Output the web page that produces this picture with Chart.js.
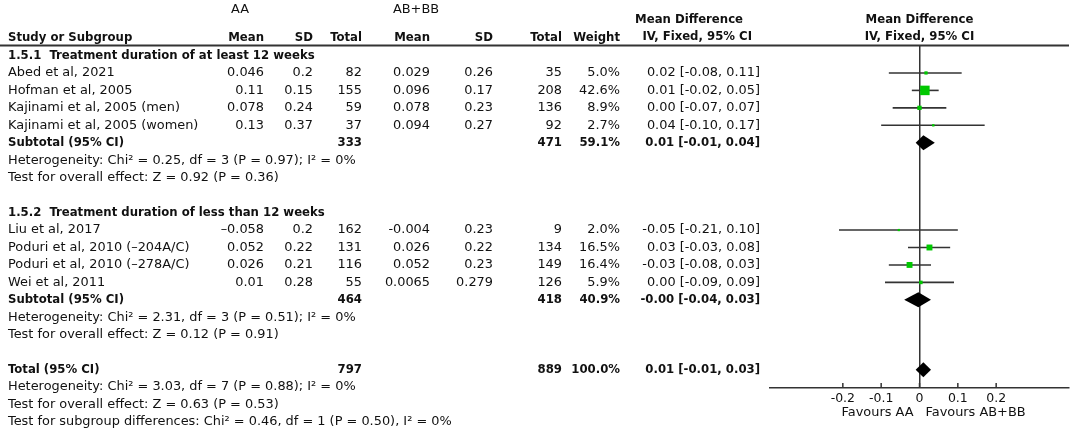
<!DOCTYPE html>
<html>
<head>
<meta charset="utf-8">
<script src="https://cdn.jsdelivr.net/npm/chart.js@4.4.1/dist/chart.umd.min.js"></script>
<style>
  html, body { margin: 0; padding: 0; background: #fff; overflow: hidden; }
  canvas { display: block; }
</style>
</head>
<body>
<canvas id="forest" width="1072" height="432"></canvas>
<script>
// study rows (row index = line of the table)
const studyNames = ['Abed et al, 2021', 'Hofman et al, 2005', 'Kajinami et al, 2005 (men)', 'Kajinami et al, 2005 (women)',
                    'Liu et al, 2017', 'Poduri et al, 2010 (–204A/C)', 'Poduri et al, 2010 (–278A/C)', 'Wei et al, 2011'];
const studyRows = [1, 2, 3, 4, 10, 11, 12, 13];
const aaMean = ['0.046', '0.11', '0.078', '0.13', '–0.058', '0.052', '0.026', '0.01'];
const aaSD = ['0.2', '0.15', '0.24', '0.37', '0.2', '0.22', '0.21', '0.28'];
const aaTotal = [82, 155, 59, 37, 162, 131, 116, 55];
const abMean = ['0.029', '0.096', '0.078', '0.094', '-0.004', '0.026', '0.052', '0.0065'];
const abSD = ['0.26', '0.17', '0.23', '0.27', '0.23', '0.22', '0.23', '0.279'];
const abTotal = [35, 208, 136, 92, 9, 134, 149, 126];
const weights = [5.0, 42.6, 8.9, 2.7, 2.0, 16.5, 16.4, 5.9];
const md = [0.017, 0.014, 0.000, 0.036, -0.054, 0.026, -0.026, 0.0035];
const ciLow = [-0.08, -0.02, -0.07, -0.10, -0.21, -0.03, -0.08, -0.09];
const ciHigh = [0.11, 0.05, 0.07, 0.17, 0.10, 0.08, 0.03, 0.09];

// subtotals and total
const summaryLabels = ['Subtotal (95% CI)', 'Subtotal (95% CI)', 'Total (95% CI)'];
const summaryRows = [5, 14, 18];
const summaryAA = [333, 464, 797];
const summaryAB = [471, 418, 889];
const summaryWeight = ['59.1%', '40.9%', '100.0%'];
const summaryEst = [0.01, -0.003, 0.01];
const summaryLow = [-0.01, -0.04, -0.01];
const summaryHigh = [0.04, 0.03, 0.03];

// group headings and statistics lines
const groupHeadings = ['1.5.1  Treatment duration of at least 12 weeks', '1.5.2  Treatment duration of less than 12 weeks'];
const groupRows = [0, 9];
const statLines = [
  'Heterogeneity: Chi² = 0.25, df = 3 (P = 0.97); I² = 0%',
  'Test for overall effect: Z = 0.92 (P = 0.36)',
  'Heterogeneity: Chi² = 2.31, df = 3 (P = 0.51); I² = 0%',
  'Test for overall effect: Z = 0.12 (P = 0.91)',
  'Heterogeneity: Chi² = 3.03, df = 7 (P = 0.88); I² = 0%',
  'Test for overall effect: Z = 0.63 (P = 0.53)',
  'Test for subgroup differences: Chi² = 0.46, df = 1 (P = 0.50), I² = 0%'
];
const statRows = [6, 7, 15, 16, 19, 20, 21];

// axis
const xTicks = [-0.2, -0.1, 0, 0.1, 0.2];
const favourLabels = ['Favours AA', 'Favours AB+BB'];

const FS = 12.9;
function fnt(bold) {
  return bold ? 'bold 13px "DejaVu Sans Condensed", "DejaVu Sans", sans-serif'
              : FS + 'px "DejaVu Sans", sans-serif';
}

function fmtCI(e, l, h) {
  return e.toFixed(2) + ' [' + l.toFixed(2) + ', ' + h.toFixed(2) + ']';
}

// colonnes du tableau
const COL = { name: 8, aaMean: 264, aaSD: 313, aaN: 362, abMean: 430, abSD: 493, abN: 562, weight: 620, ci: 760 };

const forestPlugin = {
  id: 'forestTable',
  afterDatasetsDraw(chart) {
    // diamants des sous-totaux
    const { ctx, scales: { x, y } } = chart;
    ctx.save();
    ctx.fillStyle = '#000';
    summaryRows.forEach(function (r, i) {
      const cy = y.getPixelForValue(r);
      ctx.beginPath();
      ctx.moveTo(x.getPixelForValue(summaryLow[i]), cy);
      ctx.lineTo(x.getPixelForValue(summaryEst[i]), cy - 7.5);
      ctx.lineTo(x.getPixelForValue(summaryHigh[i]), cy);
      ctx.lineTo(x.getPixelForValue(summaryEst[i]), cy + 7.5);
      ctx.closePath();
      ctx.fill();
    });
    ctx.restore();
  },
  afterDraw(chart) {
    const { ctx, chartArea, scales: { x, y } } = chart;
    ctx.save();
    ctx.fillStyle = '#111';
    ctx.textBaseline = 'middle';

    function txt(s, px, py, align, bold) {
      ctx.font = fnt(bold);
      ctx.textAlign = align || 'left';
      ctx.fillText(s, px, py);
    }

    // ligne d'en-tête
    ctx.strokeStyle = '#333';
    ctx.lineWidth = 2;
    ctx.beginPath();
    ctx.moveTo(0, 45.5);
    ctx.lineTo(chartArea.right, 45.5);
    ctx.stroke();

    // petites graduations vers le haut
    ctx.lineWidth = 1.5;
    xTicks.forEach(function (t) {
      const px = x.getPixelForValue(t);
      ctx.beginPath();
      ctx.moveTo(px, chartArea.bottom - 5);
      ctx.lineTo(px, chartArea.bottom);
      ctx.stroke();
    });

    // en-têtes
    txt('AA', 240, 10, 'center', false);
    txt('AB+BB', 416, 10, 'center', false);
    txt('Mean Difference', 743, 20, 'right', true);
    txt('IV, Fixed, 95% CI', 752, 37, 'right', true);
    const mid = (chartArea.left + chartArea.right) / 2;
    txt('Mean Difference', mid, 20, 'center', true);
    txt('IV, Fixed, 95% CI', mid, 37, 'center', true);
    txt('Study or Subgroup', COL.name, 38, 'left', true);
    txt('Mean', COL.aaMean, 38, 'right', true);
    txt('SD', COL.aaSD, 38, 'right', true);
    txt('Total', COL.aaN, 38, 'right', true);
    txt('Mean', COL.abMean, 38, 'right', true);
    txt('SD', COL.abSD, 38, 'right', true);
    txt('Total', COL.abN, 38, 'right', true);
    txt('Weight', COL.weight, 38, 'right', true);

    groupHeadings.forEach(function (g, i) {
      txt(g, COL.name, y.getPixelForValue(groupRows[i]), 'left', true);
    });

    studyNames.forEach(function (n, i) {
      const py = y.getPixelForValue(studyRows[i]);
      txt(n, COL.name, py, 'left', false);
      txt(aaMean[i], COL.aaMean, py, 'right', false);
      txt(aaSD[i], COL.aaSD, py, 'right', false);
      txt(String(aaTotal[i]), COL.aaN, py, 'right', false);
      txt(abMean[i], COL.abMean, py, 'right', false);
      txt(abSD[i], COL.abSD, py, 'right', false);
      txt(String(abTotal[i]), COL.abN, py, 'right', false);
      txt(weights[i].toFixed(1) + '%', COL.weight, py, 'right', false);
      txt(fmtCI(md[i], ciLow[i], ciHigh[i]), COL.ci, py, 'right', false);
    });

    summaryLabels.forEach(function (s, i) {
      const py = y.getPixelForValue(summaryRows[i]);
      txt(s, COL.name, py, 'left', true);
      txt(String(summaryAA[i]), COL.aaN, py, 'right', true);
      txt(String(summaryAB[i]), COL.abN, py, 'right', true);
      txt(summaryWeight[i], COL.weight, py, 'right', true);
      txt(fmtCI(summaryEst[i], summaryLow[i], summaryHigh[i]), COL.ci, py, 'right', true);
    });

    statLines.forEach(function (s, i) {
      txt(s, COL.name, y.getPixelForValue(statRows[i]), 'left', false);
    });

    // libellés "Favours"
    const x0 = x.getPixelForValue(0);
    txt(favourLabels[0], x0 - 6, 413, 'right', false);
    txt(favourLabels[1], x0 + 6, 413, 'left', false);
    ctx.restore();
  }
};

const datasets = [{
  type: 'scatter',
  order: 0,
  data: md.map(function (v, i) { return { x: v, y: studyRows[i] }; }),
  pointStyle: 'rect',
  pointRadius: weights.map(function (w) { return Math.max(1.6, Math.sqrt(w) * 1.03); }),
  backgroundColor: '#00c800',
  borderWidth: 0
}];
studyNames.forEach(function (n, i) {
  datasets.push({
    type: 'scatter',
    order: 1,
    data: [{ x: ciLow[i], y: studyRows[i] }, { x: ciHigh[i], y: studyRows[i] }],
    showLine: true,
    borderColor: '#333',
    borderWidth: 1.6,
    pointRadius: 0
  });
});

new Chart(document.getElementById('forest'), {
  type: 'scatter',
  data: { datasets: datasets },
  options: {
    responsive: false,
    animation: false,
    layout: { autoPadding: false, padding: { top: 46, left: 770, right: 3, bottom: 24 } },
    plugins: { legend: { display: false }, tooltip: { enabled: false } },
    scales: {
      x: {
        type: 'linear',
        min: -0.39,
        max: 0.39,
        afterBuildTicks: function (scale) {
          scale.ticks = xTicks.map(function (v) { return { value: v }; });
        },
        afterFit: function (scale) {
          scale.height = 20;
          scale.paddingLeft = 0;
          scale.paddingRight = 0;
        },
        ticks: {
          color: '#111',
          padding: 3,
          font: { family: 'DejaVu Sans', size: 12.5 },
          callback: function (v) { return v === 0 ? '0' : v.toFixed(1); }
        },
        grid: {
          drawTicks: false,
          lineWidth: 1.5,
          color: function (c) { return c.tick && c.tick.value === 0 ? '#333' : 'rgba(0,0,0,0)'; }
        },
        border: { display: true, color: '#333', width: 1.5 }
      },
      y: {
        type: 'linear',
        reverse: true,
        min: -0.544,
        max: 19.05,
        display: false
      }
    }
  },
  plugins: [forestPlugin]
});
</script>
</body>
</html>
